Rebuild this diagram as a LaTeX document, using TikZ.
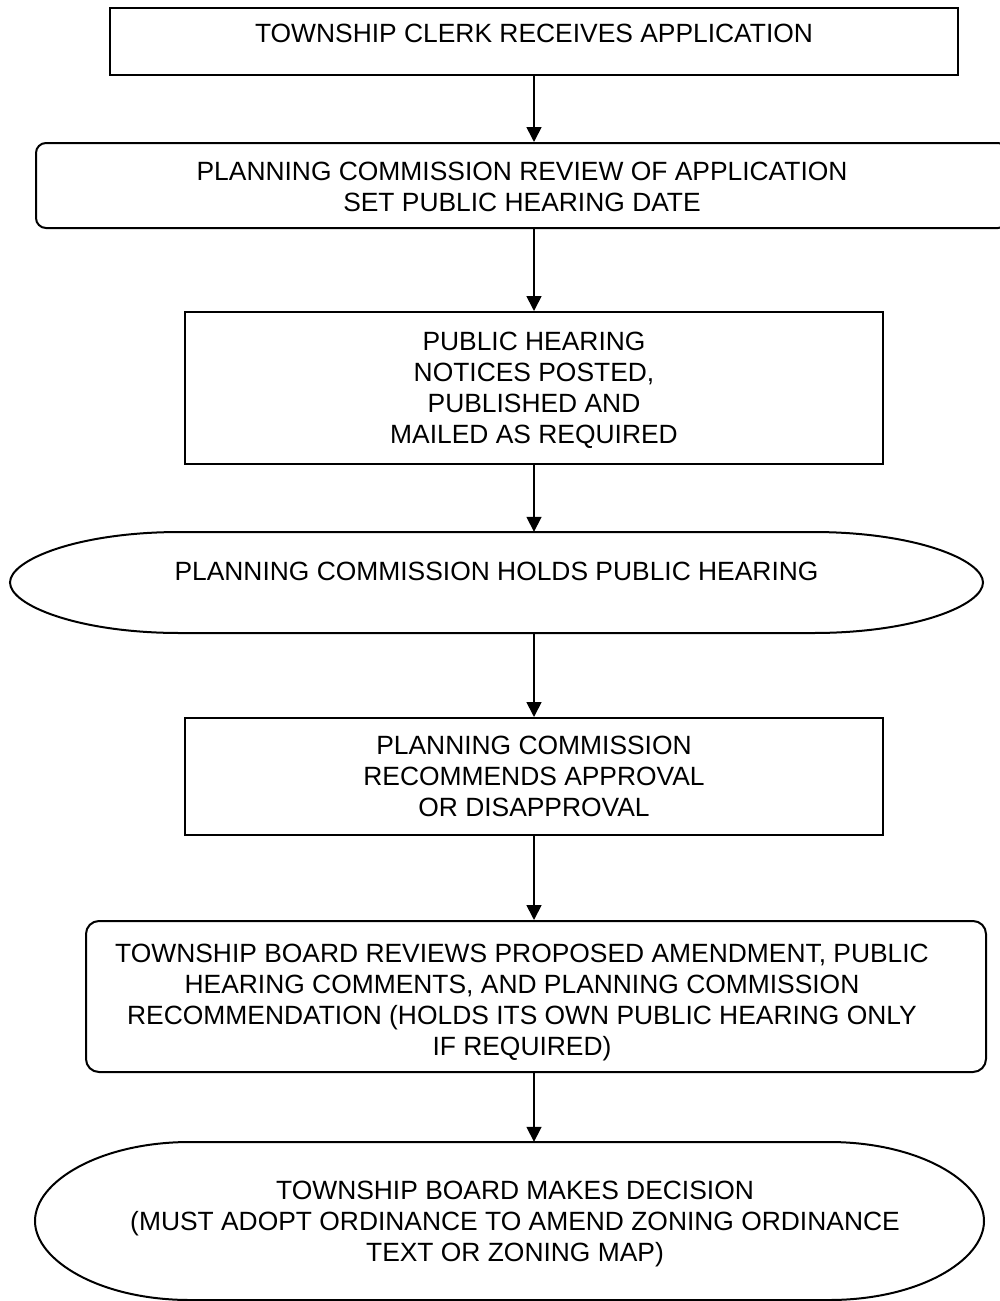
\documentclass[tikz,border=0pt]{standalone}
\usepackage{fontspec}
\setmainfont{Liberation Sans}
\usetikzlibrary{arrows.meta}
% capsule outline: x0, x1, ytop, ybot, cap radius, horizontal handle, vertical handle
\newcommand\capsulepath[7]{%
  \draw[boxline] ({#1+#5},#3) -- ({#2-#5},#3)
   .. controls ({#2-(1-#6)*#5},#3) and (#2,{(#3+#4)/2-#7*(#4-#3)/2}) .. (#2,{(#3+#4)/2})
   .. controls (#2,{(#3+#4)/2+#7*(#4-#3)/2}) and ({#2-(1-#6)*#5},#4) .. ({#2-#5},#4)
   -- ({#1+#5},#4)
   .. controls ({#1+(1-#6)*#5},#4) and (#1,{(#3+#4)/2+#7*(#4-#3)/2}) .. (#1,{(#3+#4)/2})
   .. controls (#1,{(#3+#4)/2-#7*(#4-#3)/2}) and ({#1+(1-#6)*#5},#3) .. cycle;}
\begin{document}
\begin{tikzpicture}[x=1pt,y=-1pt,
  boxline/.style={draw=black,line width=2pt},
  stepbox/.style={boxline,rectangle,inner sep=0pt},
  roundbox/.style={stepbox,rounded corners=#1},
  area/.style={rectangle,inner sep=0pt,draw=none},
  txt/.style={anchor=north,inner sep=0pt,align=center,font=\fontsize{26.4}{31}\selectfont},
  arr/.style={line width=1.7pt,-{Triangle[width=15pt,length=15pt]}}]
\useasboundingbox (0,0) rectangle (1000,1301);
\coordinate (ax) at (534,0);

% shapes
\node[stepbox, minimum width=848pt, minimum height=67pt] (b1) at (534,41.5) {};
\node[roundbox=10pt, minimum width=972pt, minimum height=85pt] (b2) at (522,185.5) {};
\node[stepbox, minimum width=698pt, minimum height=152pt] (b3) at (534,388) {};
\node[area, minimum width=973pt, minimum height=101pt] (e1) at (496.5,582.5) {};
\capsulepath{10}{983}{532}{633}{170}{0.6}{0.45}
\node[stepbox, minimum width=698pt, minimum height=117pt] (b5) at (534,776.5) {};
\node[roundbox=13pt, minimum width=900pt, minimum height=151pt] (b6) at (536,996.5) {};
\node[area, minimum width=949pt, minimum height=158pt] (e2) at (509.5,1221) {};
\capsulepath{35}{984}{1142}{1300}{155}{0.58}{0.5}

% texts
\node[txt] (t1) at (534,23.5) {TOWNSHIP CLERK RECEIVES APPLICATION};
\node[txt] (t2) at (522,162) {PLANNING COMMISSION REVIEW OF APPLICATION\\SET PUBLIC HEARING DATE};
\node[txt] (t3) at (534,332) {PUBLIC HEARING\\NOTICES POSTED,\\PUBLISHED AND\\MAILED AS REQUIRED};
\node[txt] (t4) at (496.5,562) {PLANNING COMMISSION HOLDS PUBLIC HEARING};
\node[txt] (t5) at (534,735.5) {PLANNING COMMISSION\\RECOMMENDS APPROVAL\\OR DISAPPROVAL};
\node[txt] (t6) at (522,943.5) {TOWNSHIP BOARD REVIEWS PROPOSED AMENDMENT, PUBLIC\\HEARING COMMENTS, AND PLANNING COMMISSION\\RECOMMENDATION (HOLDS ITS OWN PUBLIC HEARING ONLY\\IF REQUIRED)};
\node[txt] (t7) at (515,1180.5) {TOWNSHIP BOARD MAKES DECISION\\(MUST ADOPT ORDINANCE TO AMEND ZONING ORDINANCE\\TEXT OR ZONING MAP)};

% connectors
\draw[arr] (b1.south -| ax) -- (b2.north -| ax);
\draw[arr] (b2.south -| ax) -- (b3.north -| ax);
\draw[arr] (b3.south -| ax) -- (e1.north -| ax);
\draw[arr] (e1.south -| ax) -- (b5.north -| ax);
\draw[arr] (b5.south -| ax) -- (b6.north -| ax);
\draw[arr] (b6.south -| ax) -- (e2.north -| ax);
\end{tikzpicture}
\end{document}
